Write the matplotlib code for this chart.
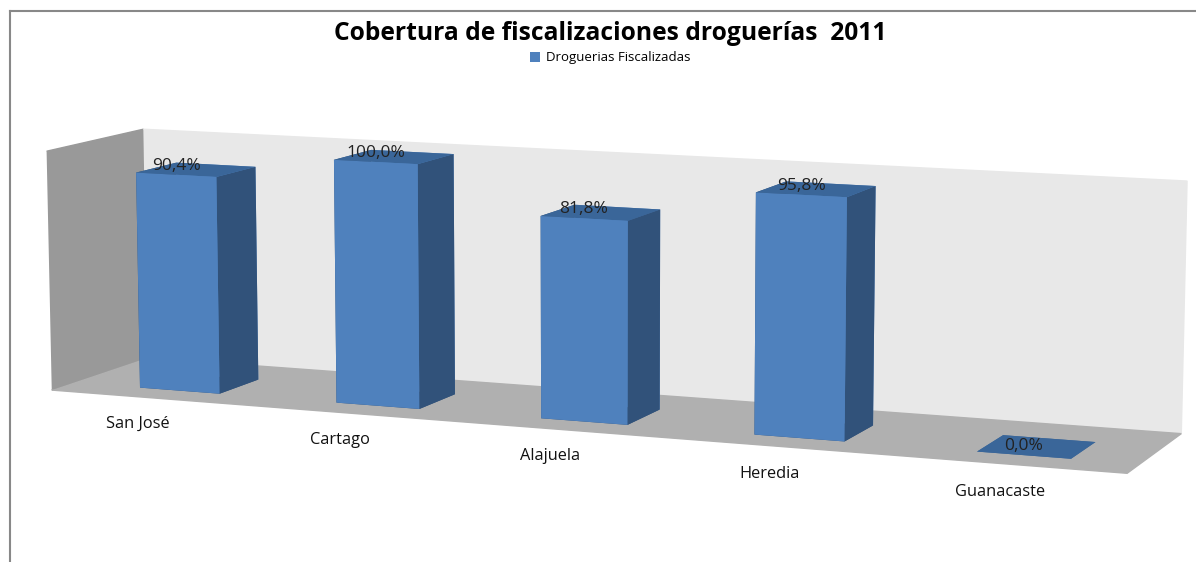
import numpy as np
import matplotlib
matplotlib.use("Agg")
import matplotlib.pyplot as plt
from matplotlib.patches import Patch

# data
provincias = ["San José", "Cartago", "Alajuela", "Heredia", "Guanacaste"]
fiscalizadas = [90.4, 100.0, 81.8, 95.8, 0.0]
etiquetas = ["90,4%", "100,0%", "81,8%", "95,8%", "0,0%"]
serie = "Droguerias Fiscalizadas"
titulo = "Cobertura de fiscalizaciones droguerías  2011"

plt.rcParams["font.family"] = ["Open Sans", "DejaVu Sans"]

fig = plt.figure(figsize=(11.96, 5.62), dpi=100)
# 3D axes get squared, so make the rect tall enough to cover the whole width
ax = fig.add_axes([-0.011, -0.565, 1.0, 2.046], projection="3d")

n = len(provincias)
w, d = 0.41, 0.85
y0 = -0.55
front = "#4F81BD"
side = "#31527A"
top = "#3A6699"

# one bar3d per bar so the depth sorting works bar by bar
for i, v in enumerate(fiscalizadas):
    # faces: bottom, top, front, back, left, right
    if v == 0:
        fc = [top] * 6
    else:
        fc = [side, top, front, front, side, side]
    col = ax.bar3d(i - w / 2, y0, 0, w, d, v / 100.0, color=fc, shade=False,
                   edgecolor="none")
    col.set_clip_on(False)

for i, (v, t) in enumerate(zip(fiscalizadas, etiquetas)):
    ax.text(i, y0, v / 100.0 + 0.005, t, fontsize=12.5, ha="center",
            va="bottom", color="#222222", zorder=100)
    ax.text(i + 0.03, -1.55, -0.03, provincias[i], fontsize=11.8, ha="center",
            va="top", color="#111111", zorder=100)

ax.set_xlim(-0.55, n - 0.5)
ax.set_ylim(-1.0, 1.0)
ax.set_zlim(0, 1.0)
ax.set_box_aspect((5.5, 1.0, 1.2), zoom=1.0)
ax.view_init(elev=9, azim=-68)
ax.set_proj_type("persp", focal_length=0.65)

ax.grid(False)
for a in (ax.xaxis, ax.yaxis, ax.zaxis):
    a.set_ticks([])
    a.line.set_color((0, 0, 0, 0))
    a.pane.set_edgecolor("none")
ax.xaxis.set_pane_color((0.6, 0.6, 0.6, 1.0))
ax.yaxis.set_pane_color((0.91, 0.91, 0.91, 1.0))
ax.zaxis.set_pane_color((0.69, 0.69, 0.69, 1.0))

fig.text(0.51, 0.94, titulo, ha="center", va="center", fontsize=17.7,
         fontweight="bold")
fig.legend(handles=[Patch(facecolor=front, label=serie)], loc="center",
           bbox_to_anchor=(0.51, 0.897), frameon=False, fontsize=9.5,
           handlelength=0.8, handleheight=0.8, handletextpad=0.4)

# outer chart frame (only top and left edges visible)
fig.add_artist(plt.Line2D([0.008, 0.008], [0.0, 0.98], color="#888888",
                          lw=1.5, transform=fig.transFigure))
fig.add_artist(plt.Line2D([0.008, 1.0], [0.98, 0.98], color="#888888",
                          lw=1.5, transform=fig.transFigure))

fig.savefig("out.png", dpi=100)
